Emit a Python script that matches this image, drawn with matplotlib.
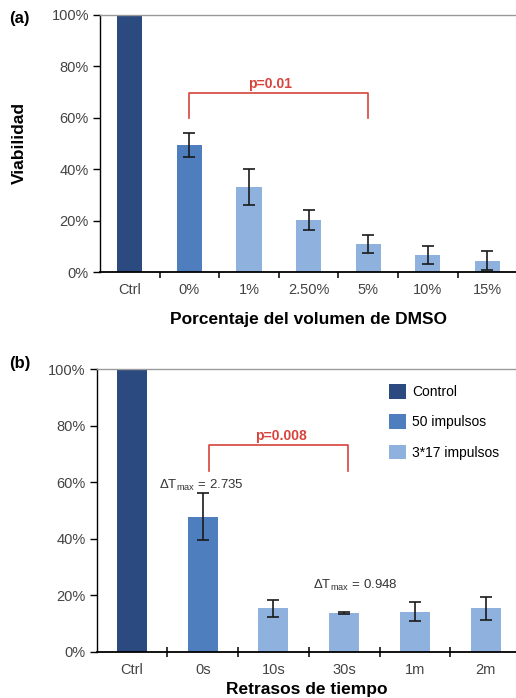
import matplotlib
matplotlib.use("Agg")
import matplotlib.pyplot as plt
from matplotlib.patches import Patch

plt.rcParams['font.family'] = ['Liberation Sans', 'DejaVu Sans']
plt.rcParams['mathtext.fontset'] = 'custom'
plt.rcParams['mathtext.rm'] = 'Liberation Sans'

# ---- data panel (a)
cats_a = ["Ctrl", "0%", "1%", "2.50%", "5%", "10%", "15%"]
vals_a = [100, 49.4, 32.9, 20.2, 10.8, 6.7, 4.4]
errs_a = [0, 4.7, 7.0, 3.9, 3.6, 3.5, 3.6]
groups_a = ["control", "50", "317", "317", "317", "317", "317"]
bracket_a = (1, 4, 69.8, 59.8)   # from cat, to cat, top, bottom
ptext_a = "p=0.01"

# ---- data panel (b)
cats_b = ["Ctrl", "0s", "10s", "30s", "1m", "2m"]
vals_b = [100, 47.8, 15.3, 13.7, 14.2, 15.3]
errs_b = [0, 8.4, 3.0, 0.5, 3.5, 4.0]
groups_b = ["control", "50", "317", "317", "317", "317"]
bracket_b = (1.095, 3.05, 73.2, 64.1)
ptext_b = "p=0.008"
dt_labels = ["2.735", "0.948"]
yticks = [0, 20, 40, 60, 80, 100]
ytick_labels = ["0%", "20%", "40%", "60%", "80%", "100%"]

colors = {"control": "#2b4b80", "50": "#4f7ebe", "317": "#8fb1de"}
legend_names = {"control": "Control", "50": "50 impulsos", "317": "3*17 impulsos"}
red = "#d8433c"
tick_col = "#444444"

W, H = 516, 698
fig = plt.figure(figsize=(W / 100, H / 100), dpi=100)


def style_axes(ax, tickdir, ticklen):
    ax.set_ylim(0, 100)
    ax.set_yticks(yticks)
    ax.set_yticklabels(ytick_labels)
    ax.spines['right'].set_visible(False)
    ax.spines['top'].set_color('#9a9a9a')
    ax.spines['top'].set_linewidth(1.0)
    ax.spines['left'].set_linewidth(1.0)
    ax.spines['bottom'].set_linewidth(1.3)
    ax.tick_params(axis='y', direction='out', length=5, width=1, labelsize=10.5,
                   labelcolor=tick_col, pad=3)
    ax.tick_params(axis='x', which='major', length=0, labelsize=10.5,
                   labelcolor=tick_col, pad=8)
    ax.tick_params(axis='x', which='minor', direction=tickdir, length=ticklen, width=1.1)


def draw(ax, cats, vals, errs, groups, width):
    x = list(range(len(cats)))
    ax.bar(x, vals, width=width, color=[colors[g] for g in groups], zorder=2)
    xe = [i for i in x if errs[i] > 0]
    ax.errorbar(xe, [vals[i] for i in xe], yerr=[errs[i] for i in xe], fmt='none',
                ecolor='#1a1a1a', elinewidth=1.2, capsize=4, capthick=1.2, zorder=3)
    ax.set_xticks(x)
    ax.set_xticklabels(cats)
    ax.set_xticks([i + 0.5 for i in x[:-1]], minor=True)


def bracket(ax, b, text, tx, ty):
    x0, x1, top, bot = b
    ax.plot([x0, x0, x1, x1], [bot, top, top, bot], color=red, lw=1.2,
            clip_on=False, zorder=4)
    ax.text(tx, ty, text, color=red, fontsize=10, fontweight='bold',
            ha='center', va='center')


# ---- panel (a)
ax1 = fig.add_axes([100 / W, (H - 272) / H, 416 / W, 257 / H])
draw(ax1, cats_a, vals_a, errs_a, groups_a, 0.42)
ax1.set_xlim(-0.5, 6.48)
style_axes(ax1, 'out', 4)
bracket(ax1, bracket_a, ptext_a, 2.36, 73.3)
ax1.set_ylabel("Viabilidad", fontsize=12.5, fontweight='bold', labelpad=18)
ax1.set_xlabel("Porcentaje del volumen de DMSO", fontsize=12.5, fontweight='bold',
               labelpad=11)
fig.text(9 / W, 1 - 18 / H, "(a)", fontsize=12, fontweight='bold', va='center')

# ---- panel (b)
ax2 = fig.add_axes([96.7 / W, (H - 651.7) / H, 419.3 / W, 282.4 / H])
draw(ax2, cats_b, vals_b, errs_b, groups_b, 0.425)
ax2.set_xlim(-0.5, 5.43)
style_axes(ax2, 'inout', 7)
bracket(ax2, bracket_b, ptext_b, 2.10, 76.3)
ax2.set_xlabel("Retrasos de tiempo", fontsize=12.5, fontweight='bold', labelpad=4)
fig.text(9 / W, 1 - 364 / H, "(b)", fontsize=12, fontweight='bold', va='center')

ax2.text(0.98, 59.0, r"ΔT$_{\mathrm{max}}$ = " + dt_labels[0], fontsize=9.5,
         color='#333333', ha='center', va='center')
ax2.text(3.16, 23.4, r"ΔT$_{\mathrm{max}}$ = " + dt_labels[1], fontsize=9.5,
         color='#333333', ha='center', va='center')

handles = [Patch(facecolor=colors[k], edgecolor='none', label=legend_names[k])
           for k in ["control", "50", "317"]]
ax2.legend(handles=handles, loc='upper left', bbox_to_anchor=(389 / W, 1 - 384 / H),
           bbox_transform=fig.transFigure, frameon=False, fontsize=10,
           handlelength=1.25, handleheight=1.25, handletextpad=0.4,
           labelspacing=1.1, borderpad=0, borderaxespad=0)

fig.savefig("out.png", dpi=100)
